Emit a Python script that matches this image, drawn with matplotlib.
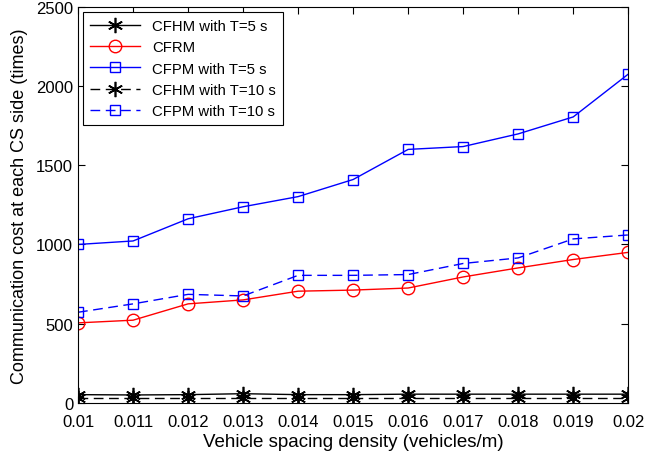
import numpy as np
import matplotlib.pyplot as plt

plt.rcParams['font.family'] = ['Liberation Sans', 'DejaVu Sans']

# Datos
density = [0.01, 0.011, 0.012, 0.013, 0.014, 0.015, 0.016, 0.017, 0.018, 0.019, 0.02]
xtick_labels = ['0.01', '0.011', '0.012', '0.013', '0.014', '0.015', '0.016',
                '0.017', '0.018', '0.019', '0.02']
cfhm_t5 = [52, 50, 52, 58, 52, 52, 55, 55, 55, 55, 55]
cfrm = [505, 522, 625, 650, 705, 712, 725, 795, 852, 905, 950]
cfpm_t5 = [1000, 1022, 1162, 1238, 1302, 1410, 1600, 1618, 1698, 1805, 2075]
cfhm_t10 = [30, 30, 30, 30, 30, 30, 30, 30, 30, 30, 30]
cfpm_t10 = [572, 625, 685, 675, 805, 805, 810, 880, 915, 1035, 1060]

fig = plt.figure(figsize=(6.45, 4.6), dpi=100)
ax = fig.add_axes([0.121, 0.122, 0.853, 0.861])

star = (6, 2, 0)  # asterisco estilo MATLAB
ax.plot(density, cfhm_t5, '-', color='k', marker=star, ms=11, mew=1.2, lw=1,
        label='CFHM with T=5 s')
ax.plot(density, cfrm, '-', color='r', marker='o', ms=9, mfc='none', mew=1, lw=1,
        label='CFRM')
ax.plot(density, cfpm_t5, '-', color='b', marker='s', ms=7, mfc='none', mew=1, lw=1,
        label='CFPM with T=5 s')
ax.plot(density, cfhm_t10, '--', color='k', marker=star, ms=11, mew=1.2, lw=1,
        dashes=(7, 4), label='CFHM with T=10 s')
ax.plot(density, cfpm_t10, '--', color='b', marker='s', ms=7, mfc='none', mew=1, lw=1,
        dashes=(7, 4), label='CFPM with T=10 s')

ax.set_xlim(0.01, 0.02)
ax.set_ylim(0, 2500)
ax.set_xticks(density)
ax.set_xticklabels(xtick_labels)
ax.set_yticks([0, 500, 1000, 1500, 2000, 2500])
ax.tick_params(direction='in', top=True, right=True, labelsize=12, length=5)
ax.tick_params(axis='x', pad=8)
ax.set_xlabel('Vehicle spacing density (vehicles/m)', fontsize=13.5, labelpad=3)
ax.set_ylabel('Communication cost at each CS side (times)', fontsize=13, labelpad=6)

leg = ax.legend(loc='upper left', fontsize=10.7, fancybox=False, framealpha=1,
                edgecolor='k', handlelength=3.4, borderaxespad=0.35,
                labelspacing=0.5, borderpad=0.45)
leg.get_frame().set_linewidth(0.8)

plt.savefig('out.png', dpi=100)
